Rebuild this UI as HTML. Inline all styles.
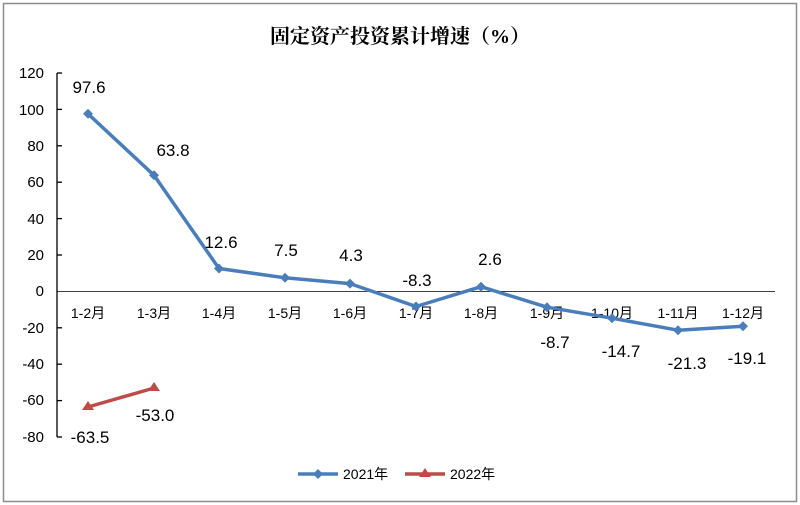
<!DOCTYPE html>
<html><head><meta charset="utf-8"><style>
html,body{margin:0;padding:0;background:#fff}
svg{display:block}
text{font-family:"Liberation Sans","Noto Sans CJK SC",sans-serif;fill:#000}
</style></head><body>
<svg width="800" height="505" viewBox="0 0 800 505">
<rect x="3.5" y="3.5" width="793" height="498" fill="#fff" stroke="#8c8c8c" stroke-width="1.5"/>
<text x="400" y="43" text-anchor="middle" font-size="20" style="font-family:'Liberation Serif','Noto Serif CJK SC',serif;font-weight:bold">固定资产投资累计增速（%）</text>
<g font-size="15" text-anchor="end">
<text x="44" y="78">120</text><text x="44" y="115">100</text><text x="44" y="151">80</text><text x="44" y="187">60</text><text x="44" y="224">40</text><text x="44" y="260">20</text><text x="44" y="296">0</text><text x="44" y="333">-20</text><text x="44" y="369">-40</text><text x="44" y="405">-60</text><text x="44" y="442">-80</text>
</g>
<g stroke="#000" stroke-width="1.3" fill="none">
<line x1="57" y1="73" x2="57" y2="437"/>
<line x1="57" y1="73" x2="62" y2="73"/><line x1="57" y1="109.4" x2="62" y2="109.4"/><line x1="57" y1="145.8" x2="62" y2="145.8"/><line x1="57" y1="182.2" x2="62" y2="182.2"/><line x1="57" y1="218.6" x2="62" y2="218.6"/><line x1="57" y1="255" x2="62" y2="255"/><line x1="57" y1="327.8" x2="62" y2="327.8"/><line x1="57" y1="364.2" x2="62" y2="364.2"/><line x1="57" y1="400.6" x2="62" y2="400.6"/><line x1="57" y1="437" x2="62" y2="437"/>
</g>
<line x1="57" y1="291.4" x2="775" y2="291.4" stroke="#000" stroke-width="0.8"/>
<g font-size="14" text-anchor="middle" fill="#222">
<text x="88" y="318">1-2月</text><text x="154" y="318">1-3月</text><text x="219" y="318">1-4月</text><text x="285" y="318">1-5月</text><text x="350" y="318">1-6月</text><text x="416" y="318">1-7月</text><text x="481" y="318">1-8月</text><text x="547" y="318">1-9月</text><text x="612" y="318">1-10月</text><text x="678" y="318">1-11月</text><text x="743" y="318">1-12月</text>
</g>
<polyline fill="none" stroke="#4a7ebb" stroke-width="3.5" stroke-linejoin="round" points="88,113.8 154,175.3 219,268.5 285,277.8 350,283.6 416,306.5 481,286.7 547,307.2 612,318.2 678,330.2 743,326.2"/>
<g fill="#4a7ebb">
<path d="M88,108.8l5,5-5,5-5-5z"/><path d="M154,170.3l5,5-5,5-5-5z"/><path d="M219,263.5l5,5-5,5-5-5z"/><path d="M285,272.8l5,5-5,5-5-5z"/><path d="M350,278.6l5,5-5,5-5-5z"/><path d="M416,301.5l5,5-5,5-5-5z"/><path d="M481,281.7l5,5-5,5-5-5z"/><path d="M547,302.2l5,5-5,5-5-5z"/><path d="M612,313.2l5,5-5,5-5-5z"/><path d="M678,325.2l5,5-5,5-5-5z"/><path d="M743,321.2l5,5-5,5-5-5z"/>
</g>
<polyline fill="none" stroke="#be4b48" stroke-width="3.5" points="88,407 154,388"/>
<path d="M88,401l6,9h-12z" fill="#be4b48"/><path d="M154,382l6,9h-12z" fill="#be4b48"/>
<g font-size="17" text-anchor="middle">
<text x="89" y="93">97.6</text><text x="173" y="156">63.8</text><text x="221" y="248">12.6</text><text x="286" y="256">7.5</text><text x="351" y="261">4.3</text><text x="417" y="286">-8.3</text><text x="490" y="265">2.6</text><text x="555" y="348">-8.7</text><text x="621" y="357">-14.7</text><text x="687" y="369">-21.3</text><text x="747" y="364">-19.1</text>
<text x="90" y="443">-63.5</text><text x="155" y="421">-53.0</text>
</g>
<line x1="298" y1="474" x2="338" y2="474" stroke="#4a7ebb" stroke-width="3.5"/>
<path d="M318,469l5,5-5,5-5-5z" fill="#4a7ebb"/>
<text x="343" y="479" font-size="14">2021年</text>
<line x1="405" y1="474" x2="445" y2="474" stroke="#be4b48" stroke-width="3.5"/>
<path d="M425,468l6,9h-12z" fill="#be4b48"/>
<text x="450" y="479" font-size="14">2022年</text>
</svg>
</body></html>
